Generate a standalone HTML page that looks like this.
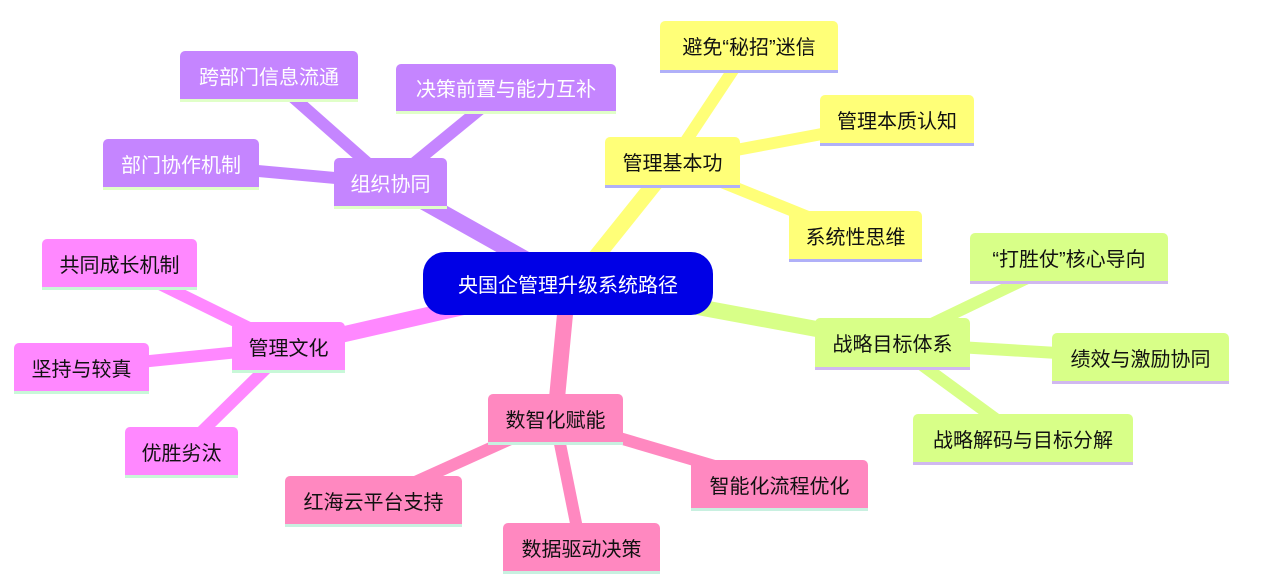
<!DOCTYPE html>
<html><head><meta charset="utf-8"><style>
body{margin:0;width:1271px;height:588px;background:#fff;position:relative;overflow:hidden;font-family:"Liberation Sans","Noto Sans CJK SC",sans-serif}
.n{position:absolute;box-sizing:border-box;display:flex;align-items:center;justify-content:center;font-size:20px;border-radius:5px 5px 0 0;border-bottom:3px solid}
.y{background:#ffff78;border-color:#b0b0f8;color:#111}
.g{background:#d8ff88;border-color:#d0b8f0;color:#111}
.p{background:#ff88c0;border-color:#c8f0e0;color:#111}
.m{background:#ff88ff;border-color:#c8f8d8;color:#111}
.v{background:#c585ff;border-color:#e0ffc8;color:#fff}
svg{position:absolute;left:0;top:0}
</style></head><body>
<svg width="1271" height="588">
<g stroke-linecap="butt">
<g stroke="#ffff78"><line x1="575" y1="283" x2="672" y2="162" stroke-width="16"/><line x1="672" y1="162" x2="749" y2="46" stroke-width="12"/><line x1="672" y1="162" x2="897" y2="120" stroke-width="12"/><line x1="672" y1="162" x2="855" y2="236" stroke-width="12"/></g>
<g stroke="#d8ff88"><line x1="568" y1="283" x2="892" y2="343" stroke-width="16"/><line x1="892" y1="343" x2="1069" y2="258" stroke-width="12"/><line x1="892" y1="343" x2="1140" y2="358" stroke-width="12"/><line x1="892" y1="343" x2="1023" y2="439" stroke-width="12"/></g>
<g stroke="#ff88c0"><line x1="568" y1="283" x2="555" y2="419" stroke-width="16"/><line x1="555" y1="419" x2="373" y2="501" stroke-width="12"/><line x1="555" y1="419" x2="581" y2="548" stroke-width="12"/><line x1="555" y1="419" x2="779" y2="485" stroke-width="12"/></g>
<g stroke="#ff88ff"><line x1="568" y1="283" x2="288" y2="347" stroke-width="16"/><line x1="288" y1="347" x2="119" y2="264" stroke-width="12"/><line x1="288" y1="347" x2="81" y2="368" stroke-width="12"/><line x1="288" y1="347" x2="181" y2="452" stroke-width="12"/></g>
<g stroke="#c585ff"><line x1="568" y1="283" x2="390" y2="183" stroke-width="16"/><line x1="390" y1="183" x2="269" y2="76" stroke-width="12"/><line x1="390" y1="183" x2="506" y2="88" stroke-width="12"/><line x1="390" y1="183" x2="181" y2="164" stroke-width="12"/></g>
</g></svg>
<div class="n" style="left:423px;top:252px;width:290px;height:63px;background:#0000e6;color:#fff;border:none;border-radius:22px">央国企管理升级系统路径</div>
<div class="n y" style="left:605px;top:137px;width:135px;height:51px">管理基本功</div>
<div class="n y" style="left:660px;top:21px;width:178px;height:52px">避免“秘招”迷信</div>
<div class="n y" style="left:820px;top:95px;width:154px;height:51px">管理本质认知</div>
<div class="n y" style="left:789px;top:211px;width:133px;height:51px">系统性思维</div>
<div class="n g" style="left:815px;top:318px;width:155px;height:52px">战略目标体系</div>
<div class="n g" style="left:970px;top:233px;width:198px;height:51px">“打胜仗”核心导向</div>
<div class="n g" style="left:1052px;top:333px;width:177px;height:51px">绩效与激励协同</div>
<div class="n g" style="left:913px;top:414px;width:220px;height:51px">战略解码与目标分解</div>
<div class="n p" style="left:488px;top:394px;width:135px;height:51px">数智化赋能</div>
<div class="n p" style="left:285px;top:476px;width:177px;height:51px">红海云平台支持</div>
<div class="n p" style="left:503px;top:523px;width:157px;height:51px">数据驱动决策</div>
<div class="n p" style="left:691px;top:460px;width:177px;height:51px">智能化流程优化</div>
<div class="n m" style="left:232px;top:322px;width:113px;height:51px">管理文化</div>
<div class="n m" style="left:42px;top:239px;width:155px;height:51px">共同成长机制</div>
<div class="n m" style="left:14px;top:343px;width:135px;height:51px">坚持与较真</div>
<div class="n m" style="left:125px;top:427px;width:113px;height:51px">优胜劣汰</div>
<div class="n v" style="left:334px;top:158px;width:113px;height:51px">组织协同</div>
<div class="n v" style="left:180px;top:51px;width:178px;height:51px">跨部门信息流通</div>
<div class="n v" style="left:396px;top:64px;width:220px;height:50px">决策前置与能力互补</div>
<div class="n v" style="left:103px;top:139px;width:156px;height:51px">部门协作机制</div>
</body></html>
